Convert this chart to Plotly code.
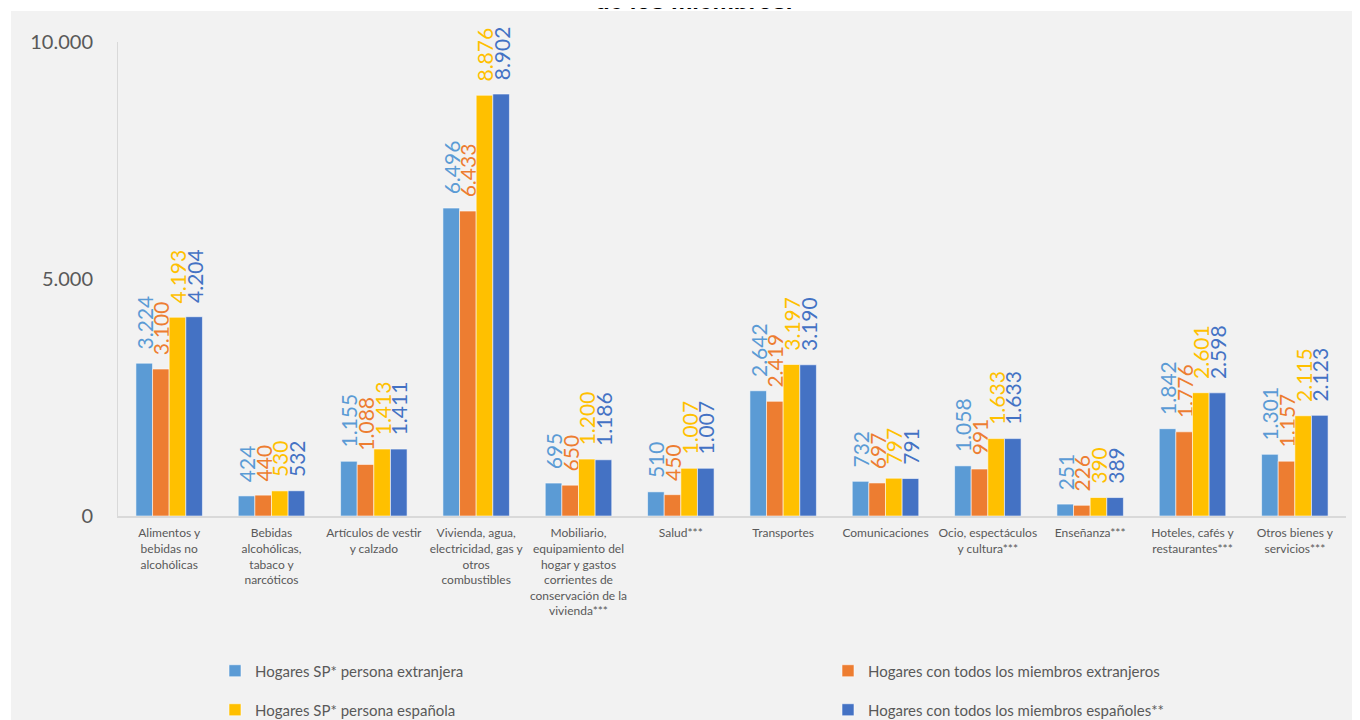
import plotly.graph_objects as go

categories = [
    "Alimentos y<br>bebidas no<br>alcohólicas",
    "Bebidas<br>alcohólicas,<br>tabaco y<br>narcóticos",
    "Artículos de vestir<br>y calzado",
    "Vivienda, agua,<br>electricidad, gas y<br>otros<br>combustibles",
    "Mobiliario,<br>equipamiento del<br>hogar y gastos<br>corrientes de<br>conservación de la<br>vivienda***",
    "Salud***",
    "Transportes",
    "Comunicaciones",
    "Ocio, espectáculos<br>y cultura***",
    "Enseñanza***",
    "Hoteles, cafés y<br>restaurantes***",
    "Otros bienes y<br>servicios***",
]

sp_extranjera = [3224, 424, 1155, 6496, 695, 510, 2642, 732, 1058, 251, 1842, 1301]
todos_extranjeros = [3100, 440, 1088, 6433, 650, 450, 2419, 697, 991, 226, 1776, 1157]
sp_espanola = [4193, 530, 1413, 8876, 1200, 1007, 3197, 797, 1633, 390, 2601, 2115]
todos_espanoles = [4204, 532, 1411, 8902, 1186, 1007, 3190, 791, 1633, 389, 2598, 2123]

series_names = [
    "Hogares SP* persona extranjera",
    "Hogares con todos los miembros extranjeros",
    "Hogares SP* persona española",
    "Hogares con todos los miembros españoles**",
]
series_values = [sp_extranjera, todos_extranjeros, sp_espanola, todos_espanoles]
colors = ["#5B9BD5", "#ED7D31", "#FFC000", "#4472C4"]
legends = ["legend", "legend", "legend2", "legend2"]

y_ticks = [0, 5000, 10000]
title_fragment = "de los miembros."

FONT = "Lato, sans-serif"

fig = go.Figure()
for name, vals, col, lg in zip(series_names, series_values, colors, legends):
    fig.add_trace(go.Bar(
        x=categories, y=vals, name=name,
        marker=dict(color=col, line=dict(color="rgba(255,255,255,0.55)", width=1)),
        texttemplate="\u00a0\u00a0%{y:,}",
        textposition="outside", textangle=-90,
        outsidetextfont=dict(family=FONT, size=21, color=col),
        constraintext="none", cliponaxis=False,
        legend=lg,
    ))

# page body has an 8px margin, so figure coords = screen coords - 8
OFF = 8
W, H = 1352, 712
ml, mr, mt, mb = 118 - OFF, 14, 42 - OFF, H - (516 - OFF)
pw = W - ml - mr
ph = H - mt - mb

def px_x(p):
    return (p - OFF - ml) / pw

def px_y(p):
    return 1 - (p - OFF - mt) / ph

fig.add_shape(type="rect", xref="paper", yref="paper",
              x0=px_x(11), x1=px_x(1400), y0=px_y(760), y1=px_y(11),
              fillcolor="#F2F2F2", line=dict(width=0), layer="below")

fig.add_annotation(text="<b>" + title_fragment + "</b>", xref="paper", yref="paper",
                   x=px_x(693), y=px_y(16), xanchor="center", yanchor="bottom",
                   showarrow=False, font=dict(family="Liberation Sans, Arial", size=24, color="#000000"))

legend_common = dict(orientation="h", xanchor="left", yanchor="middle",
                     entrywidth=568, entrywidthmode="pixels",
                     font=dict(family=FONT, size=15, color="#595959"),
                     bgcolor="rgba(0,0,0,0)", itemwidth=30, traceorder="normal")

fig.update_layout(
    width=W, height=H,
    margin=dict(l=ml, r=mr, t=mt, b=mb, autoexpand=False),
    paper_bgcolor="#FFFFFF", plot_bgcolor="#F2F2F2",
    separators=",.",
    barmode="group", bargap=0.35, bargroupgap=0,
    showlegend=True,
    legend=dict(x=px_x(215), y=px_y(671), **legend_common),
    legend2=dict(x=px_x(215), y=px_y(710), **legend_common),
    xaxis=dict(showline=True, linecolor="#D9D9D9", linewidth=2, ticks="",
               tickfont=dict(family=FONT, size=12, color="#595959"),
               ticklabelstandoff=5,
               showgrid=False, zeroline=False, tickangle=0, automargin=False),
    yaxis=dict(range=[0, 10000], tickvals=y_ticks, tickformat=",",
               showline=True, linecolor="#D9D9D9", linewidth=1,
               showgrid=False, zeroline=False, ticks="", ticklabelstandoff=20,
               tickfont=dict(family=FONT, size=20, color="#595959"),
               automargin=False),
)

fig.write_html("out.html")
